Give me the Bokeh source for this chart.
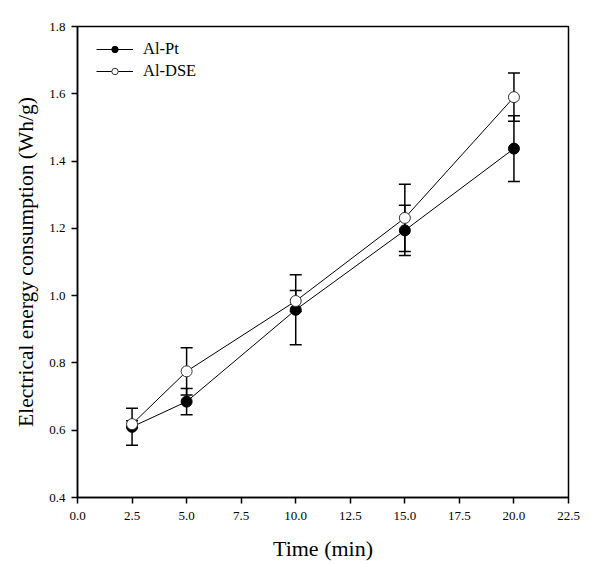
from bokeh.plotting import figure
from bokeh.models import ColumnDataSource, Whisker, FixedTicker, Range1d, TeeHead, CustomJSTickFormatter
from bokeh.embed import file_html
from bokeh.resources import INLINE

time = [2.5, 5.0, 10.0, 15.0, 20.0]
pt_vals = [0.610, 0.685, 0.958, 1.194, 1.437]
pt_err = [0.055, 0.039, 0.104, 0.075, 0.098]
dse_vals = [0.618, 0.775, 0.984, 1.231, 1.590]
dse_err = [0.010, 0.070, 0.031, 0.100, 0.072]
x_ticks = [0.0, 2.5, 5.0, 7.5, 10.0, 12.5, 15.0, 17.5, 20.0, 22.5]
y_ticks = [0.4, 0.6, 0.8, 1.0, 1.2, 1.4, 1.6, 1.8]

FONT = "Liberation Serif"

p = figure(width=600, height=563, output_backend="svg", toolbar_location=None,
           x_range=Range1d(0, 22.5), y_range=Range1d(0.4, 1.8),
           min_border_left=77, min_border_right=32, min_border_top=26, min_border_bottom=66)
p.xgrid.visible = False
p.ygrid.visible = False
p.outline_line_color = "black"
p.outline_line_width = 1.5
p.outline_line_alpha = 1

p.xaxis.ticker = FixedTicker(ticks=x_ticks)
p.yaxis.ticker = FixedTicker(ticks=y_ticks)
p.xaxis.formatter = CustomJSTickFormatter(code="return tick.toFixed(1);")
p.yaxis.formatter = CustomJSTickFormatter(code="return tick.toFixed(1);")
for ax in (p.xaxis, p.yaxis):
    ax.axis_line_color = "black"
    ax.axis_line_width = 1.5
    ax.major_tick_line_color = "black"
    ax.major_tick_line_width = 1.5
    ax.major_tick_out = 6
    ax.major_tick_in = 0
    ax.minor_tick_line_color = None
    ax.major_label_text_font = FONT
    ax.major_label_text_font_size = "13px"
    ax.major_label_text_color = "black"
    ax.axis_label_text_font = FONT
    ax.axis_label_text_font_style = "normal"
    ax.axis_label_text_color = "black"
p.xaxis.axis_label_text_font_size = "22px"
p.yaxis.axis_label_text_font_size = "21.5px"
p.xaxis.axis_label = "Time (min)"
p.yaxis.axis_label = "Electrical energy consumption (Wh/g)"
p.xaxis.major_label_standoff = 8
p.yaxis.major_label_standoff = 6
p.xaxis.axis_label_standoff = 13
p.yaxis.axis_label_standoff = 8

src_pt = ColumnDataSource(dict(x=time, y=pt_vals,
                               lo=[v - e for v, e in zip(pt_vals, pt_err)],
                               hi=[v + e for v, e in zip(pt_vals, pt_err)]))
src_dse = ColumnDataSource(dict(x=time, y=dse_vals,
                                lo=[v - e for v, e in zip(dse_vals, dse_err)],
                                hi=[v + e for v, e in zip(dse_vals, dse_err)]))

for src in (src_pt, src_dse):
    w = Whisker(source=src, base="x", lower="lo", upper="hi",
                line_color="black", line_width=1.5,
                upper_head=TeeHead(size=12, line_color="black", line_width=1.5),
                lower_head=TeeHead(size=12, line_color="black", line_width=1.5))
    p.add_layout(w)

p.line("x", "y", source=src_pt, line_color="black", line_width=1, legend_label="Al-Pt")
p.scatter("x", "y", source=src_pt, size=11, fill_color="black", line_color="black",
          line_width=1, legend_label="Al-Pt")
p.line("x", "y", source=src_dse, line_color="black", line_width=1, legend_label="Al-DSE")
p.scatter("x", "y", source=src_dse, size=11, fill_color="white", line_color="#333333",
          line_width=1, legend_label="Al-DSE")

p.legend.location = (19, 416)
p.legend.border_line_color = None
p.legend.background_fill_alpha = 0
p.legend.label_text_font = FONT
p.legend.label_text_font_size = "16.5px"
p.legend.label_text_color = "black"
p.legend.glyph_width = 37
p.legend.glyph_height = 16
p.legend.label_height = 16
p.legend.spacing = 2
p.legend.margin = 0
p.legend.padding = 0
p.legend.label_standoff = 10

open("out.html", "w").write(file_html(p, INLINE))
